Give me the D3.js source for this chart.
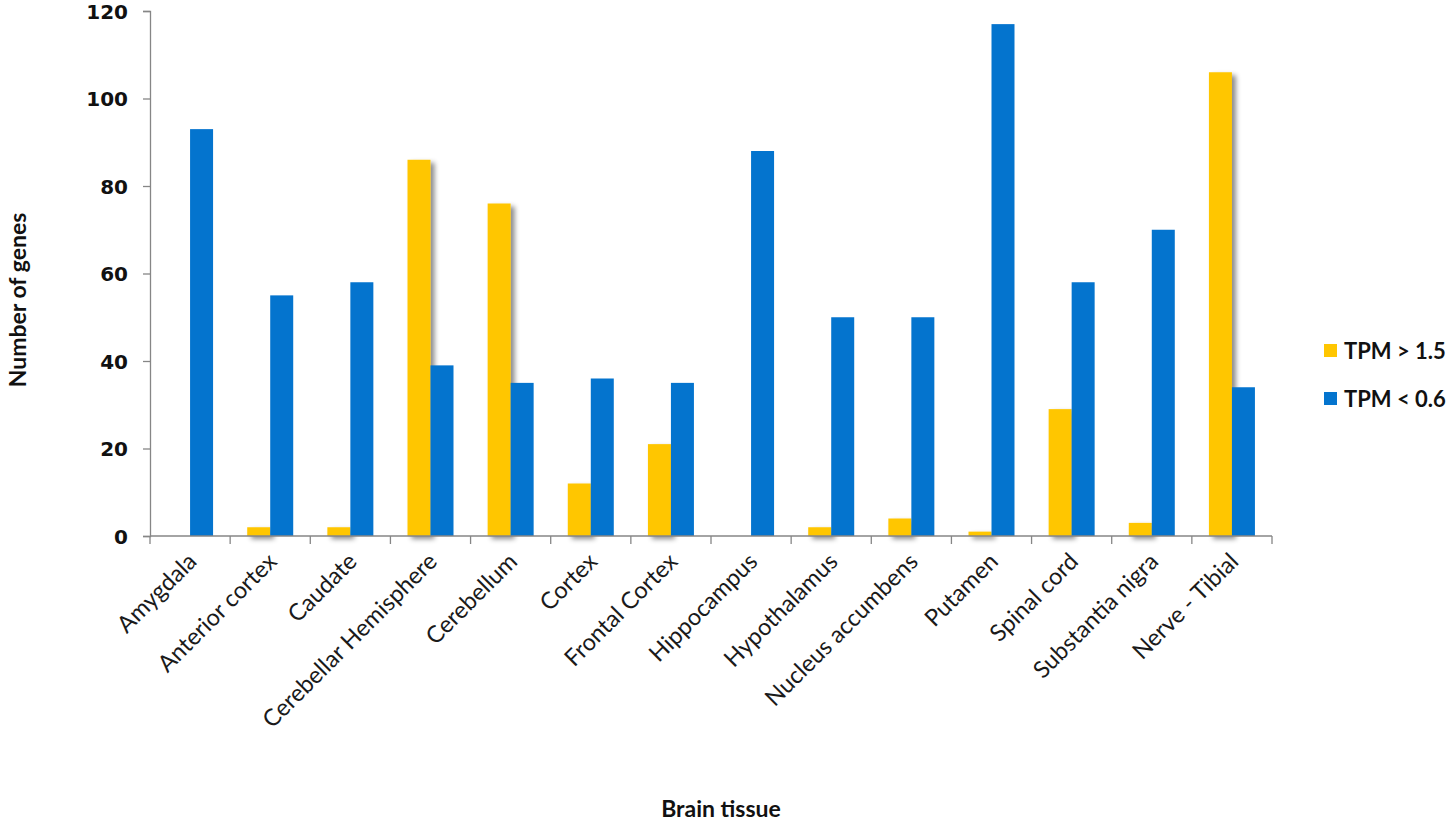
<!DOCTYPE html>
<html>
<head>
<meta charset="utf-8">
<script src="https://cdn.jsdelivr.net/npm/d3@7"></script>
<style>
  body { margin: 0; background: #fff; }
</style>
</head>
<body>
<div id="chart"></div>
<script>
// tissues along the x axis
const tissues = ["Amygdala", "Anterior cortex", "Caudate", "Cerebellar Hemisphere", "Cerebellum",
  "Cortex", "Frontal Cortex", "Hippocampus", "Hypothalamus", "Nucleus accumbens",
  "Putamen", "Spinal cord", "Substantia nigra", "Nerve - Tibial"];
// gene counts
const high = [0, 2, 2, 86, 76, 12, 21, 0, 2, 4, 1, 29, 3, 106];   // TPM > 1.5
const low = [93, 55, 58, 39, 35, 36, 35, 88, 50, 50, 117, 58, 70, 34]; // TPM < 0.6
const seriesNames = ["TPM > 1.5", "TPM < 0.6"];
const yTicks = [0, 20, 40, 60, 80, 100, 120];

const colors = ["#FFC600", "#0474CE"];
const W = 1455, H = 824;
const margin = { left: 150, right: 183, top: 11, bottom: 288 };
const sans = "Lato, 'Open Sans', sans-serif";

const svg = d3.select("#chart").append("svg")
  .attr("width", W).attr("height", H)
  .style("font-family", sans);

// drop shadow used by the yellow series
const defs = svg.append("defs");
defs.append("filter").attr("id", "shadow")
  .attr("x", "-20%").attr("y", "-5%").attr("width", "160%").attr("height", "115%")
  .append("feDropShadow")
  .attr("dx", 4).attr("dy", 3).attr("stdDeviation", 2.5)
  .attr("flood-color", "#000").attr("flood-opacity", 0.45);

const x = d3.scaleBand().domain(tissues)
  .range([margin.left, W - margin.right]).paddingInner(0).paddingOuter(0);
const y = d3.scaleLinear().domain([0, 120]).range([H - margin.bottom, margin.top]);

const barW = 23;
const rows = tissues.map((t, i) => ({ t, v: [high[i], low[i]] }));

// yellow first (with shadow), then blue on top
[0, 1].forEach(s => {
  svg.append("g")
    .attr("filter", s === 0 ? "url(#shadow)" : null)
    .selectAll("rect").data(rows).join("rect")
    .attr("x", d => x(d.t) + x.bandwidth() / 2 + (s === 0 ? -barW : 0))
    .attr("y", d => y(d.v[s]))
    .attr("width", barW)
    .attr("height", d => y(0) - y(d.v[s]))
    .attr("fill", colors[s]);
});

// y axis
const yAxis = svg.append("g")
  .attr("transform", `translate(${margin.left},0)`)
  .call(d3.axisLeft(y).tickValues(yTicks).tickSize(7).tickPadding(15));
yAxis.select(".domain").attr("stroke", "#868686").attr("stroke-width", 1.3);
yAxis.selectAll(".tick line").attr("stroke", "#868686").attr("stroke-width", 1.3);
yAxis.selectAll(".tick text")
  .style("font-family", "'DejaVu Sans', sans-serif")
  .style("font-size", "20px").style("font-weight", "bold")
  .attr("fill", "#111")
  .attr("dy", "0.35em");

// x axis: ticks at the band boundaries
const xg = svg.append("g").attr("transform", `translate(0,${y(0)})`);
xg.append("line")
  .attr("x1", margin.left).attr("x2", W - margin.right)
  .attr("stroke", "#868686").attr("stroke-width", 1.3);
const bounds = tissues.map(t => x(t)).concat([x(tissues[tissues.length - 1]) + x.bandwidth()]);
xg.selectAll(".xtick").data(bounds).join("line")
  .attr("x1", d => d).attr("x2", d => d).attr("y1", 0).attr("y2", 8)
  .attr("stroke", "#868686").attr("stroke-width", 1.3);

xg.selectAll(".xlabel").data(tissues).join("text")
  .attr("transform", d => `translate(${x(d) + x.bandwidth() / 2 + 8},${27}) rotate(-45)`)
  .attr("text-anchor", "end")
  .style("font-size", "23.5px")
  .attr("fill", "#1a1a1a")
  .text(d => d);

// axis titles
svg.append("text")
  .attr("x", 721).attr("y", 817)
  .attr("text-anchor", "middle")
  .style("font-size", "23px").style("font-weight", "bold").attr("fill", "#111")
  .text("Brain tissue");

svg.append("text")
  .attr("transform", "translate(26,300) rotate(-90)")
  .attr("text-anchor", "middle")
  .style("font-size", "23px").style("font-weight", "bold").attr("fill", "#111")
  .text("Number of genes");

// legend
const legend = svg.append("g").attr("transform", "translate(1324,344)");
seriesNames.forEach((name, i) => {
  const g = legend.append("g").attr("transform", `translate(0,${i * 48})`);
  g.append("rect").attr("width", 13).attr("height", 13).attr("fill", colors[i]);
  g.append("text")
    .attr("x", 20).attr("y", 7).attr("dy", "0.35em")
    .style("font-size", "22px").style("font-weight", "bold").attr("fill", "#111")
    .text(name);
});
</script>
</body>
</html>
